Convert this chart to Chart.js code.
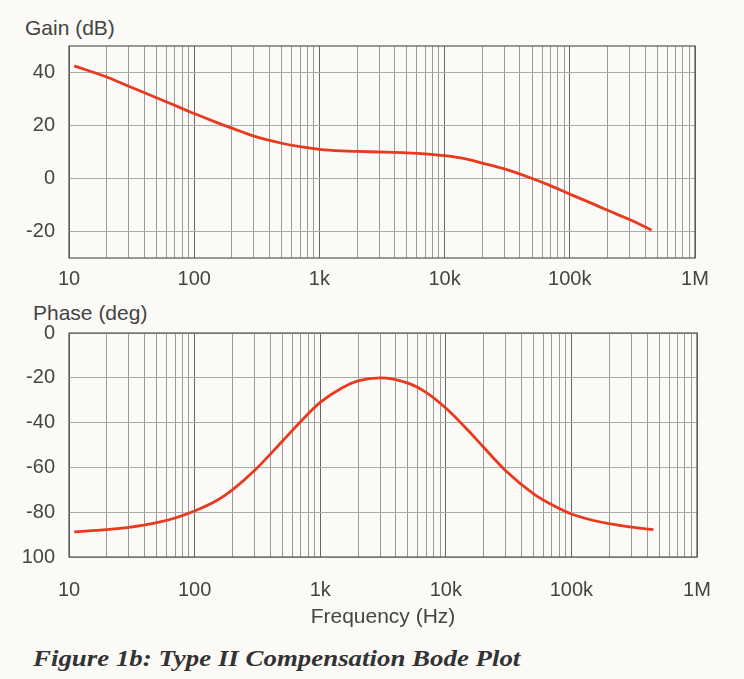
<!DOCTYPE html>
<html>
<head>
<meta charset="utf-8">
<script src="https://cdn.jsdelivr.net/npm/chart.js@4.4.1/dist/chart.umd.min.js"></script>
<style>
  body { margin: 0; background: #fbfaf7; }
  #page { position: relative; width: 744px; height: 679px; overflow: hidden; background: #fbfaf7; }
  canvas { position: absolute; left: 0; }
  .lbl { position: absolute; font-family: "Liberation Sans", Arial, sans-serif; font-size: 21px; line-height: 1; color: #444; white-space: nowrap; }
  #caption { position: absolute; left: 33px; top: 646px; font-family: "Liberation Serif", "Times New Roman", serif; font-weight: bold; font-style: italic; font-size: 24px; line-height: 1; color: #333; white-space: nowrap; transform: scaleX(1.12); transform-origin: 0 0; }
</style>
</head>
<body>
<div id="page">
  <div class="lbl" style="left:25px; top:17px;">Gain (dB)</div>
  <canvas id="gainChart" width="744" height="300" style="top:0px;"></canvas>
  <div class="lbl" style="left:33px; top:302px;">Phase (deg)</div>
  <canvas id="phaseChart" width="744" height="330" style="top:300px;"></canvas>
  <div id="caption">Figure 1b: Type II Compensation Bode Plot</div>
</div>
<script>
// valores
const freqs = [11, 20, 30, 50, 70, 100, 150, 200, 300, 500, 700, 1000, 1500, 2000, 3000, 5000, 7000, 10000, 15000, 20000, 30000, 50000, 70000, 100000, 150000, 200000, 300000, 450000];
const gainDb = [42.5, 38.3, 34.8, 30.5, 27.6, 24.5, 21.2, 19.0, 16.0, 13.3, 12.0, 11.0, 10.4, 10.2, 10.0, 9.7, 9.3, 8.6, 7.3, 5.8, 3.6, 0.0, -2.7, -5.9, -9.4, -12.0, -15.5, -19.5];
const phaseDeg = [-88.8, -87.8, -86.8, -84.7, -82.6, -79.5, -74.8, -70.0, -61.4, -48.3, -39.5, -31.0, -24.4, -21.4, -20.0, -22.4, -26.6, -33.5, -43.4, -51.0, -61.5, -71.8, -76.7, -80.8, -83.7, -85.1, -86.7, -87.8];

const decades = [10, 100, 1000, 10000, 100000, 1000000];
const decadeLabels = ['10', '100', '1k', '10k', '100k', '1M'];
const gainTicks = [-20, 0, 20, 40];
const gainTickLabels = ['-20', '0', '20', '40'];
const phaseTicks = [-100, -80, -60, -40, -20, 0];
const phaseTickLabels = ['100', '-80', '-60', '-40', '-20', '0'];

const textColor = '#444';
const lineColor = '#e83a1e';
const font = { family: '"Liberation Sans", Arial, sans-serif', size: 20 };

// linhas de grade 1..9 por década
const gridFreqs = [];
decades.slice(0, -1).forEach(d => {
    for (let k = 1; k < 10; k++) gridFreqs.push(d * k);
});
gridFreqs.push(1000000);

const frameBox = {
    id: 'frameBox',
    afterDraw(chart) {
        const a = chart.chartArea, ctx = chart.ctx;
        ctx.save();
        ctx.strokeStyle = '#555';
        ctx.lineWidth = 1.2;
        ctx.strokeRect(a.left, a.top, a.right - a.left, a.bottom - a.top);
        ctx.restore();
    }
};

function xScale(axisHeight, tickPad, withTitle) {
    return {
        type: 'logarithmic',
        min: 10,
        max: 1000000,
        afterBuildTicks: s => { s.ticks = gridFreqs.map(v => ({ value: v })); },
        afterFit: s => { s.height = axisHeight; },
        ticks: {
            autoSkip: false,
            maxRotation: 0,
            padding: tickPad,
            color: textColor,
            font: font,
            callback: v => {
                const i = decades.indexOf(v);
                return i >= 0 ? decadeLabels[i] : '';
            }
        },
        grid: {
            drawTicks: false,
            lineWidth: 1,
            color: c => decades.includes(c.tick.value) ? '#666' : '#9a9a9a'
        },
        border: { display: false },
        title: {
            display: withTitle,
            text: 'Frequency (Hz)',
            color: textColor,
            font: { family: font.family, size: 21 },
            padding: { top: 4, bottom: 0 }
        }
    };
}

function yScale(min, max, ticks, labels) {
    return {
        min: min,
        max: max,
        afterBuildTicks: s => { s.ticks = ticks.map(v => ({ value: v })); },
        afterFit: s => { s.width = 69; },
        ticks: {
            padding: 14,
            color: textColor,
            font: font,
            callback: v => labels[ticks.indexOf(v)]
        },
        grid: { drawTicks: false, color: '#aaa', lineWidth: 1 },
        border: { display: false }
    };
}

function lineData(ys) {
    return freqs.map((f, i) => ({ x: f, y: ys[i] }));
}

function bodeChart(el, ys, yOpts, xOpts, pad) {
    return new Chart(el, {
        type: 'line',
        data: {
            datasets: [{
                data: lineData(ys),
                borderColor: lineColor,
                borderWidth: 2.8,
                pointRadius: 0,
                cubicInterpolationMode: 'monotone',
                fill: false
            }]
        },
        options: {
            responsive: false,
            animation: false,
            devicePixelRatio: 1,
            layout: { padding: pad },
            plugins: { legend: { display: false }, tooltip: { enabled: false } },
            scales: { x: xOpts, y: yOpts }
        },
        plugins: [frameBox]
    });
}

document.addEventListener('DOMContentLoaded', function() {
    // gráfico de ganho
    bodeChart(document.getElementById('gainChart'), gainDb,
        yScale(-30, 50, gainTicks, gainTickLabels),
        xScale(42, 9, false),
        { left: 0, right: 49, top: 46, bottom: 0 });

    // gráfico de fase
    bodeChart(document.getElementById('phaseChart'), phaseDeg,
        yScale(-100, 0, phaseTicks, phaseTickLabels),
        xScale(73, 21, true),
        { left: 0, right: 47, top: 33, bottom: 0 });
});
</script>
</body>
</html>
